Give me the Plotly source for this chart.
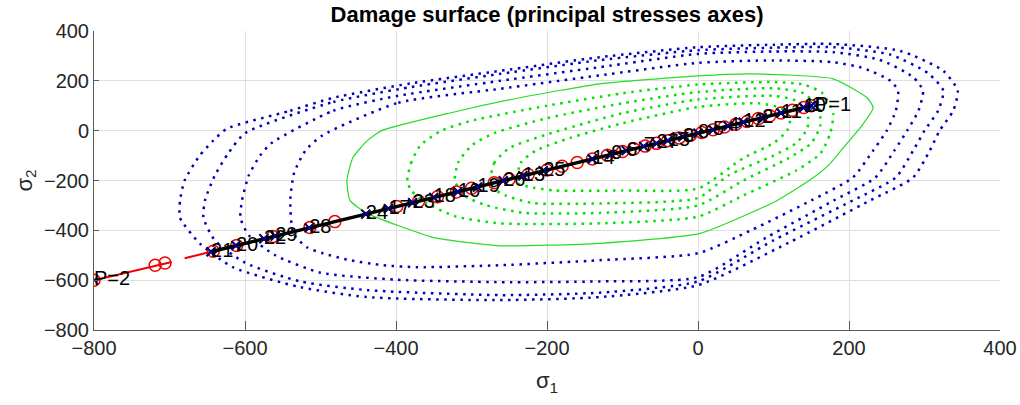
import plotly.graph_objects as go

# ---------------- data ----------------
# blue dotted damage surfaces (outer -> inner)
b4_x = [-624, -540, -483, -380, -262, -130, 0, 100, 179, 268, 325, 344, 338, 320, 307, 285, 228, 120, 0, -130, -262, -438, -527, -616, -660, -686, -686, -680, -660, -642, -624]
b4_y = [8, 80, 132, 190, 240, 295, 335, 345, 348, 320, 240, 160, 80, 0, -80, -188, -280, -450, -620, -668, -680, -668, -628, -548, -452, -350, -280, -200, -100, -40, 8]
b3_x = [-600, -483, -380, -262, -130, 0, 100, 179, 255, 305, 325, 318, 300, 285, 262, 205, 100, 0, -130, -262, -438, -527, -600, -640, -655, -653, -640, -622, -600]
b3_y = [-10, 115, 175, 228, 283, 323, 333, 335, 305, 230, 160, 80, 0, -80, -188, -280, -440, -605, -650, -660, -640, -605, -530, -440, -350, -280, -180, -90, -10]
b2_x = [-565, -483, -397, -262, -130, 0, 100, 179, 240, 285, 298, 292, 277, 260, 235, 180, 90, 0, -130, -262, -400, -500, -560, -595, -606, -604, -595, -580, -565]
b2_y = [-50, 80, 140, 200, 255, 308, 318, 315, 285, 215, 160, 80, 0, -80, -188, -280, -430, -588, -605, -608, -598, -570, -500, -420, -350, -280, -180, -100, -50]
b1_x = [-498, -397, -262, -130, 0, 100, 179, 220, 255, 265, 262, 250, 232, 205, 150, 70, 0, -130, -262, -372, -417, -461, -497, -518, -536, -540, -535, -520, -498]
b1_y = [-20, 112, 168, 222, 272, 282, 275, 250, 200, 160, 80, 0, -80, -188, -280, -400, -492, -520, -540, -548, -540, -520, -492, -468, -412, -280, -170, -80, -20]

# green solid surface
gs_x = [-419, -330, -236, -130, 0, 69, 179, 224, 232, 215, 197, 175, 153, 105, 3, -130, -262, -351, -438, -461, -465, -457, -438, -419]
gs_y = [0, 70, 132, 188, 220, 228, 208, 132, 92, 12, -52, -132, -188, -280, -412, -452, -462, -428, -332, -280, -200, -108, -40, 0]

# green dotted surfaces (outer -> inner)
g4_x = [-385, -380, -368, -340, -300, -200, -100, 0, 100, 140, 165, 179, 175, 162, 130, 60, 0, -130, -262, -320, -360, -380, -385]
g4_y = [-200, -130, -60, 0, 40, 100, 150, 185, 195, 185, 150, 68, -12, -92, -160, -260, -345, -372, -372, -345, -290, -240, -200]
g3_x = [-322, -318, -300, -270, -200, -100, 0, 100, 140, 160, 162, 150, 120, 60, 0, -130, -230, -280, -310, -322]
g3_y = [-200, -130, -60, -10, 50, 110, 155, 170, 150, 90, 20, -50, -110, -200, -300, -330, -330, -300, -260, -200]
g2_x = [-275, -270, -250, -200, -100, 0, 100, 130, 145, 145, 130, 100, 40, 0, -130, -220, -255, -272, -275]
g2_y = [-200, -130, -70, -15, 70, 125, 140, 120, 70, 10, -50, -100, -180, -270, -292, -290, -260, -230, -200]
g1_x = [-240, -235, -215, -170, -100, 0, 80, 110, 122, 118, 100, 60, 0, -100, -190, -225, -238, -240]
g1_y = [-200, -130, -80, -30, 30, 95, 110, 90, 50, 0, -50, -110, -232, -240, -240, -225, -212, -200]

# red stress path (line, with a gap) and its circle markers
red_line_x = [-800, -697, None, -680, -642, -399, 0, 150]
red_line_y = [-600, -527, None, -512, -484, -304, -10, 100]
red_pts_x = [-800, -719, -706, -642, -611, -563, -514, -481, -399, -370, -345, -320, -300, -270, -250, -225, -200,
             -180, -160, -140, -120, -100, -85, -70, -55, -40, -25, -10, 5, 20, 35, 50, 65, 80, 95, 110, 125, 140, 150]
red_pts_y = [-600, -540, -531, -484, -461, -425, -389, -365, -304, -283, -265, -246, -231, -209, -195, -176, -158,
             -143, -128, -114, -99, -84, -73, -62, -51, -40, -29, -18, -7, 4, 15, 26, 37, 49, 60, 71, 82, 93, 100]

# numbered points
pt_labels = ["21", "20", "22", "29", "28", "24", "17", "23", "18", "16", "19", "26", "13", "25", "14", "9", "6", "7",
             "27", "15", "3", "8", "5", "4", "12", "2", "11", "10", "1"]
pt_x = [-645, -612, -575, -560, -515, -440, -410, -378, -350, -318, -292, -258, -232, -205, -140, -115, -95, -72,
        -55, -40, -20, 0, 20, 40, 60, 85, 110, 140, 150]
pt_y = [-486, -461, -434, -423, -390, -335, -313, -289, -268, -245, -226, -201, -181, -161, -114, -95, -80, -63,
        -51, -40, -25, -10, 4, 19, 34, 52, 71, 93, 100]

# end points
end_labels = ["P=2", "P=1"]
end_x = [-800, 155]
end_y = [-600, 100]

x_ticks = [-800, -600, -400, -200, 0, 200, 400]
y_ticks = [-800, -600, -400, -200, 0, 200, 400]

# ---------------- figure ----------------
BLUE = "rgb(0,0,190)"
GREEN = "rgb(0,225,0)"
DOT = "2.5px,5.5px"
FONT = "Liberation Sans, Arial, Helvetica, sans-serif"

fig = go.Figure()

for xs, ys in [(b4_x, b4_y), (b3_x, b3_y), (b2_x, b2_y), (b1_x, b1_y)]:
    fig.add_trace(go.Scatter(x=xs, y=ys, mode="lines", line=dict(color=BLUE, width=2.5, dash=DOT, shape="spline", smoothing=0.6),
                             hoverinfo="skip", showlegend=False))
for xs, ys in [(g4_x, g4_y), (g3_x, g3_y), (g2_x, g2_y), (g1_x, g1_y)]:
    fig.add_trace(go.Scatter(x=xs, y=ys, mode="lines", line=dict(color=GREEN, width=2.5, dash=DOT, shape="spline", smoothing=0.6),
                             hoverinfo="skip", showlegend=False))
fig.add_trace(go.Scatter(x=gs_x, y=gs_y, mode="lines", line=dict(color="rgb(40,220,40)", width=1.2, shape="spline", smoothing=0.5),
                         hoverinfo="skip", showlegend=False))

fig.add_trace(go.Scatter(x=red_line_x, y=red_line_y, mode="lines", line=dict(color="rgb(240,0,0)", width=2),
                         connectgaps=False, showlegend=False))
fig.add_trace(go.Scatter(x=red_pts_x, y=red_pts_y, mode="markers",
                         marker=dict(symbol="circle-open", size=12, color="rgb(240,0,0)", line=dict(width=1.5)),
                         showlegend=False))
fig.add_trace(go.Scatter(x=pt_x, y=pt_y, mode="lines", line=dict(color="black", width=3.5), showlegend=False))
fig.add_trace(go.Scatter(x=pt_x, y=pt_y, mode="markers",
                         marker=dict(symbol="x-thin-open", size=9, color="black", line=dict(width=2, color="black")),
                         showlegend=False))
fig.add_trace(go.Scatter(x=pt_x + end_x, y=pt_y + end_y, mode="markers",
                         marker=dict(symbol="x-thin-open", size=8, color=BLUE, line=dict(width=1.2, color=BLUE)),
                         showlegend=False))
fig.add_trace(go.Scatter(x=pt_x, y=pt_y, mode="text", text=pt_labels, textposition="middle right",
                         textfont=dict(family=FONT, size=20, color="black"), showlegend=False))
fig.add_trace(go.Scatter(x=end_x, y=end_y, mode="text", text=end_labels, textposition="middle right",
                         textfont=dict(family=FONT, size=20, color="black"), showlegend=False))

axis_common = dict(
    showgrid=True, gridcolor="rgb(223,223,223)", gridwidth=1,
    showline=True, linecolor="rgb(90,90,90)", linewidth=1,
    ticks="inside", tickcolor="rgb(90,90,90)",
    tickfont=dict(family=FONT, size=20, color="rgb(38,38,38)"),
    zeroline=False, mirror=False, automargin=False,
)

fig.update_layout(
    width=1020, height=405,
    margin=dict(l=94, r=20, t=31, b=75),
    paper_bgcolor="white", plot_bgcolor="white",
    title=dict(text="<b>Damage surface (principal stresses axes)</b>", x=0.5363, xanchor="center",
               y=1 - 14 / 405, yref="container", yanchor="middle",
               font=dict(family=FONT, size=22, color="black")),
    xaxis=dict(range=[-800, 400], tickvals=x_ticks, ticklen=9,
               title=dict(text="σ<sub>1</sub>", font=dict(family=FONT, size=22, color="rgb(38,38,38)"), standoff=14),
               **axis_common),
    yaxis=dict(range=[-800, 400], tickvals=y_ticks, ticklen=5,
               title=dict(text="σ<sub>2</sub>", font=dict(family=FONT, size=22, color="rgb(38,38,38)"), standoff=5),
               **axis_common),
)

fig.write_html("out.html")
